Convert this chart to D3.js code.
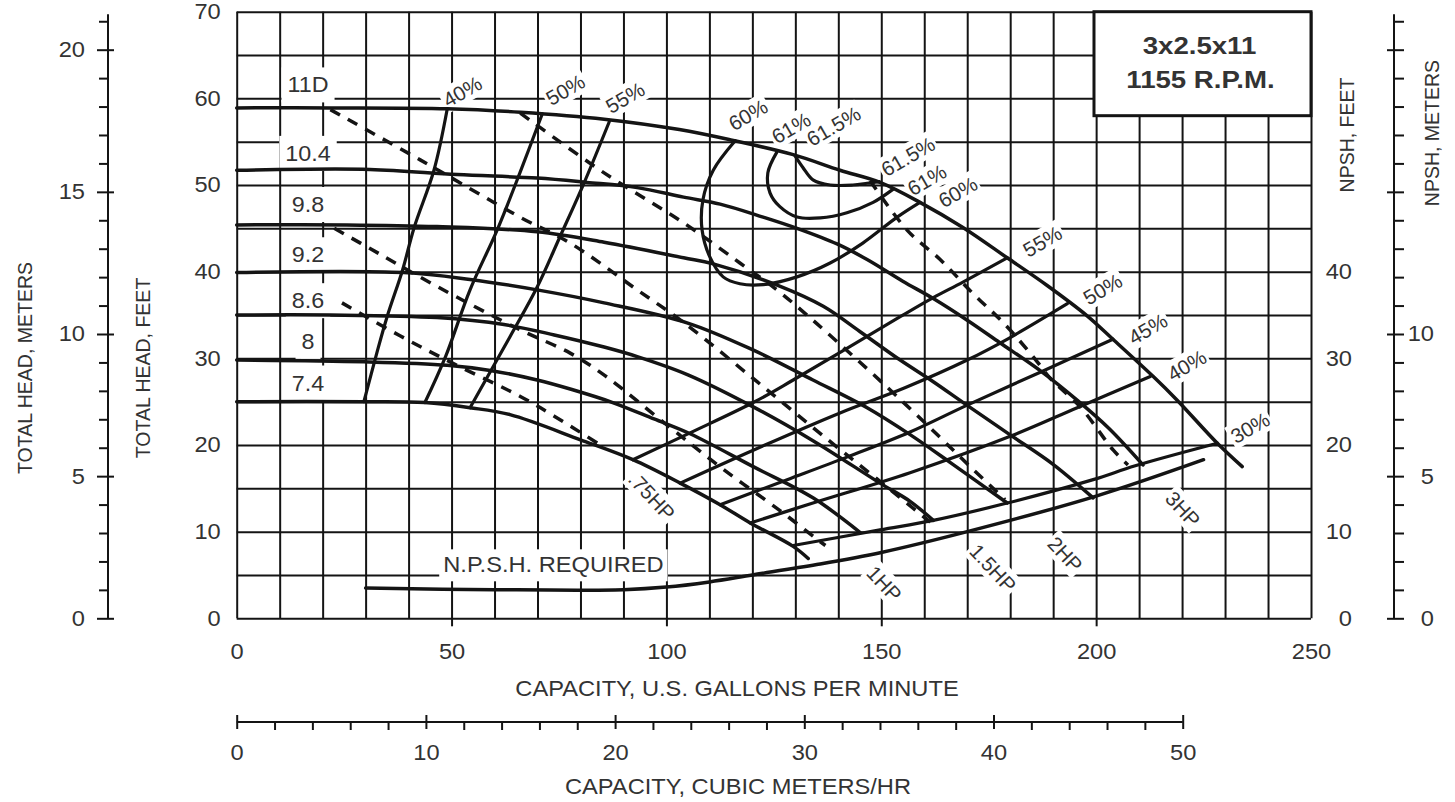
<!DOCTYPE html>
<html>
<head>
<meta charset="utf-8">
<script src="https://cdn.jsdelivr.net/npm/d3@7"></script>
<style>
  body { margin: 0; background: #fff; }
  text { font-family: "Liberation Sans", Arial, sans-serif; fill: #333; }
</style>
</head>
<body>
<div id="chart"></div>
<script>
// ---- tick values ----
var gpmTicks = [0, 50, 100, 150, 200, 250];
var feetTicks = [0, 10, 20, 30, 40, 50, 60, 70];
var npshFeetTicks = [0, 10, 20, 30, 40];
var meterTicks = [0, 5, 10, 15, 20];
var cubicTicks = [0, 10, 20, 30, 40, 50];

// ---- head curves, [gpm, feet] ----
var diameters = ["11D", "10.4", "9.8", "9.2", "8.6", "8", "7.4"];
var head11D = [[0,58.9],[22,58.9],[49,58.8],[66,58.4],[85.5,57.6],[103,56.4],[115,55.2],[129.5,53.5],[140.4,51.7],[149.7,50.3],[159,48.0],[169,45.1],[179.3,41.6],[188.6,38.4],[197.9,34.9],[203.9,32.2],[213.3,27.9],[218.8,25.2],[228.2,20.2],[234,17.5]];
var head104 = [[0,51.7],[31,51.8],[51.3,51.2],[69.9,50.8],[81.5,50.3],[93.2,49.7],[104,48.6],[112.5,47.8],[122.5,46.3],[130.4,45.0],[139.7,43.2],[146.7,41.4],[155,38.9],[162.1,36.9],[170,34.4],[177.6,31.8],[186.9,28.6],[195.5,25.2],[203,21.9],[210.9,17.7]];
var head98 = [[0,45.4],[25.6,45.4],[46.6,45.2],[69.9,44.6],[85.5,43.4],[104,41.6],[110.9,40.9],[126.5,38.3],[136.5,36.0],[145,33.1],[154.4,29.8],[162.1,27.3],[169.9,24.6],[179.9,21.2],[189.9,17.8],[199.3,13.9]];
var head92 = [[0,39.9],[38.9,39.9],[54.3,39.1],[69.9,37.9],[85.5,36.4],[104.8,34.1],[120,31.0],[134.1,27.5],[146.7,24.3],[156.7,21.2],[166,18.0],[179.3,13.3]];
var head86 = [[0,35.0],[21.7,35.0],[46.6,34.7],[62.2,33.9],[73.9,32.7],[85.5,31.3],[93.2,30.2],[105,28.1],[120.2,24.4],[134.1,20.5],[149.7,15.6],[156.7,13.5],[162.1,11.3]];
var head8 = [[0,29.8],[29.6,29.6],[49,29.2],[59,28.6],[69.9,27.5],[78,26.4],[87.5,24.9],[97.1,23.0],[105.5,21.3],[120.2,17.5],[134.1,13.9],[145.1,9.9]];
var head74 = [[0,25.0],[29.6,25.0],[43.8,24.9],[54.3,24.3],[63.6,23.5],[80,20.6],[92.2,18.3],[103.2,15.6],[112.5,13.1],[119.5,11.0],[129.5,8.3],[133,6.9]];
var headCurves = [head11D, head104, head98, head92, head86, head8, head74];
var diameterLabelAt = [[16.6,61.6],[16.6,53.7],[16.6,47.8],[16.6,42.0],[16.6,36.7],[16.6,32.0],[16.6,27.2]];

// ---- efficiency lines ----
var eff40L = [[49,58.8],[45.9,51.7],[41.3,45.1],[38.6,40.2],[35.0,34.8],[32.6,30.6],[29.6,25.0]];
var eff50L = [[71.1,58.2],[65.9,51.4],[60.6,44.8],[54.3,37.9],[48.6,30.2],[43.8,24.9]];
var eff55L = [[86.7,57.3],[80.8,50.2],[75.2,44.0],[69.9,38.2],[63.6,32.5],[54.3,24.3]];
var eff55R = [[92.2,18.3],[105.5,21.4],[120.2,24.9],[129.5,27.5],[154.4,34.8],[162.1,37.0],[169,38.8],[179.3,41.6]];
var eff50R = [[103.2,15.6],[120.2,19.4],[140.4,23.7],[155.5,26.6],[170,29.8],[180,32.4],[193.3,36.3]];
var eff45R = [[112.5,13.1],[128.1,16.0],[142,18.6],[156.7,21.5],[170,24.6],[187,28.4],[203.9,32.2]];
var eff40R = [[119.5,11.0],[134.1,13.3],[156.7,16.8],[180,21.0],[195.6,24.3],[212.6,27.9]];
var eff30 = [[129.5,8.4],[149.7,10.2],[162.1,11.3],[179.3,13.3],[199.3,16.0],[209.1,17.6],[228.2,20.2]];
var eff60 = [[116,55.1],[110.9,51.7],[108.5,48.3],[108.3,44.8],[110.1,41.7],[113.2,39.4],[117.1,38.6],[122.5,38.5],[130.4,39.4],[138.1,41.0],[145.7,43.3],[153.7,46.3],[159,48.0]];
var eff61 = [[125.7,53.8],[123.6,51.4],[124.1,49.1],[126.4,47.5],[130.4,46.3],[135.8,46.2],[142,46.8],[148.1,48.0],[152.7,49.5]];
var eff615 = [[129.9,53.4],[131.8,52.0],[134.1,50.6],[138.1,50.0],[143.4,50.0],[146.7,50.2],[149.5,50.4]];
var effLines = [eff40L, eff50L, eff55L, eff55R, eff50R, eff45R, eff40R, eff30, eff60, eff61, eff615];
var effLabels = ["40%", "50%", "55%", "60%", "61%", "61.5%", "61.5%", "61%", "60%", "55%", "50%", "45%", "40%", "30%"];
var effLabelAt = [[52.5,60.8],[76.5,61.0],[90.4,60.1],[119,58.1],[129,56.6],[138.9,56.8],[156.2,53.3],[160.6,50.6],[167.8,49.2],[187.5,43.5],[201.5,38.0],[212,33.4],[221.1,29.2],[235.8,22.0]];

// ---- horsepower lines ----
var hpLabels = [".75HP", "1HP", "1.5HP", "2HP", "3HP"];
var hp075 = [[24.5,36.4],[38,32.6],[50,29.5],[66,25.6],[74,23.3],[84,20.2]];
var hp1 = [[22.7,45.0],[32.7,42.2],[46.6,38.3],[65.9,33.3],[77.6,30.6],[85.7,28.0],[100.4,22.2],[113.2,17.2],[126.5,12.4],[135.1,9.1],[137,8.4]];
var hp15 = [[21.8,58.7],[42.7,52.9],[65.9,46.3],[77.6,43.3],[93.2,37.9],[104.1,34.1],[121.1,27.3],[137.6,20.6],[150.2,15.6],[161.4,11.1]];
var hp2 = [[66,58.3],[85.5,51.4],[104.1,45.6],[117.1,41.0],[125.7,37.9],[135,34.0],[151.3,26.7],[163,21.2],[170.7,17.5],[178.8,13.7]];
var hp3 = [[147.4,50.5],[156,44.8],[163.7,41.4],[171.1,37.6],[178.8,33.9],[186.3,29.6],[189.3,27.7],[196.3,24.4],[204,19.4],[207.4,17.7]];
var hpLines = [hp075, hp1, hp15, hp2, hp3];
var hpLabelAt = [[96.6,14.1],[150.7,4.0],[176,5.8],[192.8,7.4],[220.2,12.6]];

// ---- NPSH required ----
var npshReq = [[30,3.5],[60,3.3],[90,3.3],[100,3.6],[110,4.2],[120,5.0],[135,6.2],[150,7.6],[170,10.0],[200,14.1],[225,18.3]];
var npshLabelAt = [73.7, 6.2];

var W = 1455, H = 802;
var svg = d3.select("#chart").append("svg").attr("width", W).attr("height", H);

var x = d3.scaleLinear().domain([0, 250]).range([236.7, 1311]);
var y = d3.scaleLinear().domain([0, 70]).range([618.3, 11.7]);
var FT_PER_M = 3.2808;
var yM = d3.scaleLinear().domain([0, 70 / FT_PER_M]).range(y.range());
var GPM_PER_M3H = 4.4029;
var xM = d3.scaleLinear().domain([0, 250 / GPM_PER_M3H]).range(x.range());

var ink = "#141414";
var fs = 21.5;   // general text size
var wide = 1.1;  // scanned text is a bit wider than Liberation Sans

function widen(sel, k) {
    sel.each(function() {
        var w = this.getComputedTextLength();
        d3.select(this).attr("textLength", w * k).attr("lengthAdjust", "spacingAndGlyphs");
    });
}

// ---- grid ----
var grid = svg.append("g");
grid.append("g")
    .attr("transform", "translate(0," + y(0) + ")")
    .call(d3.axisBottom(x).tickValues(d3.range(0, 251, 10)).tickSize(-(y(0) - y(70))).tickFormat(""));
grid.append("g")
    .attr("transform", "translate(" + x(0) + ",0)")
    .call(d3.axisLeft(y).tickValues(d3.range(0, 71, 5)).tickSize(-(x(250) - x(0))).tickFormat(""));
grid.selectAll(".domain").remove();
grid.selectAll("line").attr("stroke", ink).attr("stroke-width", 2);

// ---- gpm axis labels ----
var gx = svg.append("g")
    .attr("transform", "translate(0," + y(0) + ")")
    .call(d3.axisBottom(x).tickValues(gpmTicks).tickSize(8).tickPadding(17));
gx.select(".domain").remove();
gx.selectAll(".tick line").attr("stroke", ink).attr("stroke-width", 2)
    .filter(function(d) { return d === 0 || d === 250; }).remove();
gx.selectAll("text").attr("font-size", fs).attr("fill", "#333").call(widen, wide);

// ---- feet axis labels (left) ----
var gy = svg.append("g")
    .attr("transform", "translate(" + x(0) + ",0)")
    .call(d3.axisLeft(y).tickValues(feetTicks).tickSize(0).tickPadding(16));
gy.select(".domain").remove();
gy.selectAll("text").attr("font-size", fs).attr("fill", "#333").call(widen, wide);

// ---- NPSH feet labels (right) ----
var gn = svg.append("g")
    .attr("transform", "translate(" + x(250) + ",0)")
    .call(d3.axisRight(y).tickValues(npshFeetTicks).tickSize(0));
gn.select(".domain").remove();
gn.selectAll("text").attr("font-size", fs).attr("fill", "#333")
    .attr("x", 41).attr("text-anchor", "end").call(widen, wide);

// ---- meters axis (left) ----
var meterMinor = d3.range(0, 22).filter(function(v) { return v % 5 !== 0; });
var gm = svg.append("g").attr("transform", "translate(108,0)");
gm.append("line").attr("y1", yM(0)).attr("y2", yM(21.25)).attr("stroke", ink).attr("stroke-width", 2);
gm.append("g").call(d3.axisLeft(yM).tickValues(meterMinor).tickSize(9).tickFormat(""));
gm.append("g").call(d3.axisLeft(yM).tickValues(meterTicks).tickSize(11).tickPadding(12));
gm.selectAll(".domain").remove();
gm.selectAll(".tick line").attr("stroke", ink).attr("stroke-width", 2);
gm.selectAll(".tick line").filter(function(d) { return d % 5 === 0; }).attr("x1", 6);
gm.selectAll("text").attr("font-size", fs).attr("fill", "#333").call(widen, wide);

// ---- NPSH meters axis (right) ----
var gr = svg.append("g").attr("transform", "translate(1394,0)");
gr.append("line").attr("y1", yM(0)).attr("y2", yM(21.25)).attr("stroke", ink).attr("stroke-width", 2);
gr.append("g").call(d3.axisRight(yM).tickValues(meterMinor).tickSize(10).tickFormat(""));
gr.append("g").call(d3.axisRight(yM).tickValues(meterTicks).tickSize(10)
    .tickFormat(function(d) { return d <= 10 ? d : ""; }));
gr.selectAll(".domain").remove();
gr.selectAll(".tick line").attr("stroke", ink).attr("stroke-width", 2);
gr.selectAll(".tick line").filter(function(d) { return d % 5 === 0; }).attr("x1", -7);
gr.selectAll("text").attr("font-size", fs).attr("fill", "#333")
    .attr("x", 40).attr("text-anchor", "end").call(widen, wide);

// ---- cubic meters/hr axis ----
var cubicMinor = d3.range(0, 51, 2).filter(function(v) { return v % 10 !== 0; });
var gc = svg.append("g").attr("transform", "translate(0,722)");
gc.append("line").attr("x1", xM(0)).attr("x2", xM(50)).attr("stroke", ink).attr("stroke-width", 2);
gc.append("g").call(d3.axisBottom(xM).tickValues(cubicMinor).tickSize(8).tickFormat(""));
gc.append("g").call(d3.axisBottom(xM).tickValues(cubicTicks).tickSize(7).tickPadding(16));
gc.selectAll(".domain").remove();
gc.selectAll(".tick line").attr("stroke", ink).attr("stroke-width", 2);
gc.selectAll(".tick line").filter(function(d) { return d % 10 === 0; }).attr("y1", -7);
gc.selectAll("text").attr("font-size", fs).attr("fill", "#333").call(widen, wide);

// ---- axis titles ----
function title(txt, px, py, rot, size) {
    var t = svg.append("text")
        .attr("transform", "translate(" + px + "," + py + ")" + (rot ? " rotate(" + rot + ")" : ""))
        .attr("text-anchor", "middle").attr("dy", "0.36em")
        .attr("font-size", size).text(txt);
    if (!rot) t.call(widen, wide);
}
title("CAPACITY, U.S. GALLONS PER MINUTE", 737, 688, 0, fs);
title("CAPACITY, CUBIC METERS/HR", 738, 786, 0, fs);
title("TOTAL HEAD, METERS", 25, 368, -90, 19.5);
title("TOTAL HEAD, FEET", 143, 368, -90, 19.5);
title("NPSH, FEET", 1347, 135, -90, 19.5);
title("NPSH, METERS", 1432, 133, -90, 19.5);

// ---- layers ----
var bgLayer = svg.append("g");
var curveLayer = svg.append("g");
var labelLayer = svg.append("g");

function label(txt, at, rot, size, padX, padY, stretch) {
    var tr = "translate(" + x(at[0]) + "," + y(at[1]) + ")" + (rot ? " rotate(" + rot + ")" : "");
    var t = labelLayer.append("text")
        .attr("transform", tr)
        .attr("text-anchor", "middle").attr("dy", "0.36em")
        .attr("font-size", size).text(txt);
    if (stretch) t.call(widen, stretch);
    var b = t.node().getBBox();
    bgLayer.append("rect")
        .attr("transform", tr)
        .attr("x", b.x - padX).attr("y", b.y - padY)
        .attr("width", b.width + 2 * padX).attr("height", b.height + 2 * padY)
        .attr("fill", "#fff");
}

var line = d3.line()
    .x(function(d) { return x(d[0]); })
    .y(function(d) { return y(d[1]); })
    .curve(d3.curveCatmullRom.alpha(0.5));

curveLayer.selectAll(".head")
    .data(headCurves)
    .enter()
    .append("path")
    .attr("d", line)
    .attr("fill", "none").attr("stroke", ink).attr("stroke-width", 3.5)
    .attr("stroke-linejoin", "round").attr("stroke-linecap", "round");

curveLayer.selectAll(".eff")
    .data(effLines)
    .enter()
    .append("path")
    .attr("d", line)
    .attr("fill", "none").attr("stroke", ink).attr("stroke-width", 3.2)
    .attr("stroke-linejoin", "round").attr("stroke-linecap", "round");

curveLayer.selectAll(".hp")
    .data(hpLines)
    .enter()
    .append("path")
    .attr("d", line)
    .attr("fill", "none").attr("stroke", ink).attr("stroke-width", 3.5)
    .attr("stroke-dasharray", "11,9");

curveLayer.append("path")
    .datum(npshReq)
    .attr("d", line)
    .attr("fill", "none").attr("stroke", ink).attr("stroke-width", 3.5)
    .attr("stroke-linecap", "round");

// ---- labels ----
diameters.forEach(function(d, i) { label(d, diameterLabelAt[i], 0, 22, 6, 5, 1.06); });
effLabels.forEach(function(d, i) { label(d, effLabelAt[i], -30, 20.5, 2, 1, 0); });
hpLabels.forEach(function(d, i) { label(d, hpLabelAt[i], 47, 20.5, 2, 1, 0); });
label("N.P.S.H. REQUIRED", npshLabelAt, 0, fs, 4, 4, wide);

// ---- pump model box ----
var box = svg.append("g");
box.append("rect")
    .attr("x", x(199.5)).attr("y", y(70))
    .attr("width", x(250) - x(199.5)).attr("height", y(58) - y(70))
    .attr("fill", "#fff").attr("stroke", ink).attr("stroke-width", 3);
box.append("text")
    .attr("x", (x(199.5) + x(250)) / 2 - 3).attr("y", 45).attr("dy", "0.36em")
    .attr("text-anchor", "middle").attr("font-size", 24).attr("font-weight", "bold")
    .attr("fill", "#222").text("3x2.5x11").call(widen, 1.15);
box.append("text")
    .attr("x", (x(199.5) + x(250)) / 2 - 2).attr("y", 79).attr("dy", "0.36em")
    .attr("text-anchor", "middle").attr("font-size", 24).attr("font-weight", "bold")
    .attr("fill", "#222").text("1155 R.P.M.").call(widen, 1.15);
</script>
</body>
</html>
